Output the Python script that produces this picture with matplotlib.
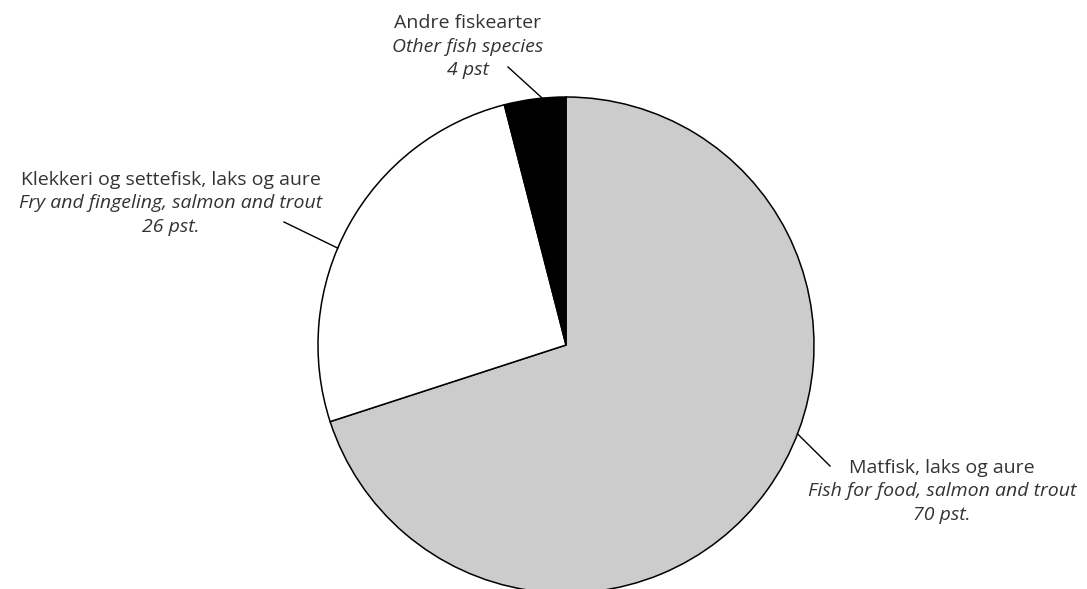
import numpy as np
import matplotlib.pyplot as plt

# data
navn = ["Matfisk, laks og aure", "Klekkeri og settefisk, laks og aure", "Andre fiskearter"]
navn_en = ["Fish for food, salmon and trout", "Fry and fingeling, salmon and trout", "Other fish species"]
pst = [70, 26, 4]
pst_tekst = ["70 pst.", "26 pst.", "4 pst"]
farger = ["#cccccc", "#ffffff", "#000000"]

plt.rcParams['font.family'] = ['Open Sans', 'DejaVu Sans']

fig = plt.figure(figsize=(10.87, 5.89), dpi=100)
ax = fig.add_axes([0, 0, 1, 1])
# pixel-like units, pie centre at origin
cx, cy, r = 566, 345, 248

ax.pie(pst, colors=farger, startangle=90, counterclock=False, radius=r,
       wedgeprops=dict(edgecolor='black', linewidth=1.1))

ax.set_xlim(-cx, 1087 - cx)
ax.set_ylim(-(589 - cy), cy)
ax.set_aspect('equal')
ax.axis('off')

# leader lines: angle where it touches the pie, end point outside
leder_vinkel = [-21, 157, 95.5]
leder_ende = [(830 - cx, cy - 466), (284 - cx, cy - 222), (508 - cx, cy - 67)]
# centre x and first baseline of each label block
tekst_pos = [(942 - cx, cy - 473), (171 - cx, cy - 185), (468 - cx, cy - 28)]
linje = 23.5

for i in range(len(pst)):
    a = np.deg2rad(leder_vinkel[i])
    x0, y0 = r * np.cos(a), r * np.sin(a)
    x1, y1 = leder_ende[i]
    ax.plot([x0, x1], [y0, y1], color='black', linewidth=1.0)
    tx, ty = tekst_pos[i]
    ax.text(tx, ty, navn[i], ha='center', va='baseline', fontsize=14, color='#333333')
    ax.text(tx, ty - linje, navn_en[i], ha='center', va='baseline', fontsize=14,
            color='#333333', style='italic')
    ax.text(tx, ty - 2 * linje, pst_tekst[i], ha='center', va='baseline', fontsize=14,
            color='#333333', style='italic')

fig.savefig('out.png', dpi=100)
